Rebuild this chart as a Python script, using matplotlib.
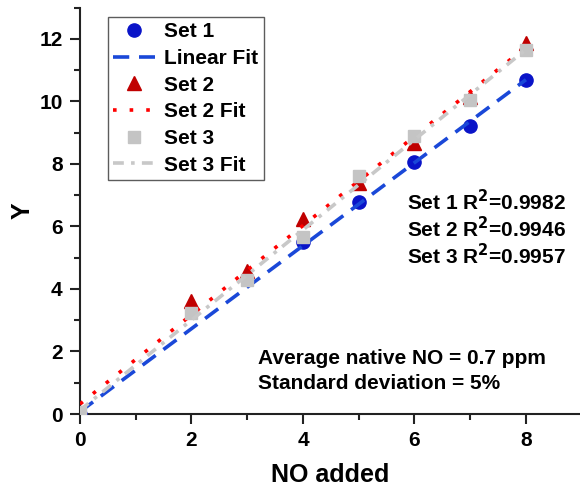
import numpy as np
import matplotlib
matplotlib.use("Agg")
import matplotlib.pyplot as plt
from matplotlib.ticker import MultipleLocator

plt.rcParams['font.family'] = ['Liberation Sans', 'DejaVu Sans']
plt.rcParams['font.weight'] = 'bold'

# Data
x1 = [0, 4, 5, 6, 7, 8]
y1 = [0.0, 5.5, 6.78, 8.07, 9.22, 10.69]
x2 = [0, 2, 3, 4, 5, 6, 7, 8]
y2 = [0.0, 3.6, 4.58, 6.25, 7.38, 8.66, 10.15, 11.87]
x3 = [0, 2, 3, 4, 5, 6, 7, 8]
y3 = [0.05, 3.23, 4.29, 5.67, 7.6, 8.9, 10.05, 11.65]

r2_labels = ["Set 1 R$^{\\mathbf{2}}$=0.9982", "Set 2 R$^{\\mathbf{2}}$=0.9946", "Set 3 R$^{\\mathbf{2}}$=0.9957"]
note_lines = ["Average native NO = 0.7 ppm", "Standard deviation = 5%"]

FS = 15

fig = plt.figure(figsize=(5.8, 4.92), dpi=100)
ax = fig.add_axes([80/580, 1-414/492, 500/580, (414-7.5)/492])

xf = np.linspace(0, 8, 100)
p1 = np.polyfit(x1, y1, 1)
p2 = np.polyfit(x2, y2, 1)
p3 = np.polyfit(x3, y3, 1)

ax.plot(x1, y1, 'o', color='#0A14C8', markersize=9.5, label='Set 1', zorder=3, linestyle='none')
ax.plot(xf, np.polyval(p1, xf), color='#1A48D8', lw=2.6, dashes=(4.5, 2.7), label='Linear Fit', zorder=4)
ax.plot(x2, y2, '^', color='#C00000', markersize=10, label='Set 2', zorder=5, linestyle='none')
ax.plot(xf, np.polyval(p2, xf), color='#FF0000', lw=2.6, dashes=(1.0, 3.6), label='Set 2 Fit', zorder=6)
ax.plot(x3, y3, 's', color='#C4C4C4', markersize=9, label='Set 3', zorder=7, linestyle='none')
ax.plot(xf, np.polyval(p3, xf), color='#C8C8C8', lw=2.6, dashes=(3.0, 2.0, 1.0, 2.0), label='Set 3 Fit', zorder=8)

ax.set_xlim(0, 8.97)
ax.set_ylim(0, 13)
ax.xaxis.set_major_locator(MultipleLocator(2))
ax.xaxis.set_minor_locator(MultipleLocator(1))
ax.yaxis.set_major_locator(MultipleLocator(2))
ax.yaxis.set_minor_locator(MultipleLocator(1))
ax.spines['top'].set_visible(False)
ax.spines['right'].set_visible(False)
for s in ['left', 'bottom']:
    ax.spines[s].set_linewidth(1.5)
    ax.spines[s].set_color('#222222')
ax.tick_params(which='major', direction='out', length=7.5, width=1.5, labelsize=FS, color='#222222', pad=5)
ax.tick_params(which='minor', direction='out', length=4.5, width=1.5, color='#222222')
for lab in ax.get_xticklabels() + ax.get_yticklabels():
    lab.set_fontweight('bold')

ax.set_xlabel('NO added', fontsize=18, fontweight='bold')
ax.set_ylabel('Y', fontsize=18, fontweight='bold')
ax.xaxis.set_label_coords(0.5, -(487 - 414) / 406.5)
ax.yaxis.set_label_coords((35 - 80) / 500, 0.5)
ax.xaxis.label.set_va('bottom')

leg = ax.legend(loc='upper left', bbox_to_anchor=((108-80)/500, (414-17)/406.5),
                borderaxespad=0, frameon=True, fancybox=False,
                edgecolor='#333333', handlelength=2.0, handletextpad=0.45,
                labelspacing=0.37, borderpad=0.25, prop={'weight': 'bold', 'size': FS})
leg.get_frame().set_linewidth(1.0)

for i, t in enumerate(r2_labels):
    ax.text(407, 201.7 + 27*i, t, transform=None, fontsize=FS, fontweight='bold', va='center')
for i, t in enumerate(note_lines):
    ax.text(258, 358 + 25.5*i, t, transform=None, fontsize=FS, fontweight='bold', va='center')

fig.canvas.draw()
for txt in ax.texts:
    x, y = txt.get_position()
    txt.set_transform(fig.transFigure)
    txt.set_position((x/580, 1 - y/492))

fig.savefig('out.png', dpi=100)
